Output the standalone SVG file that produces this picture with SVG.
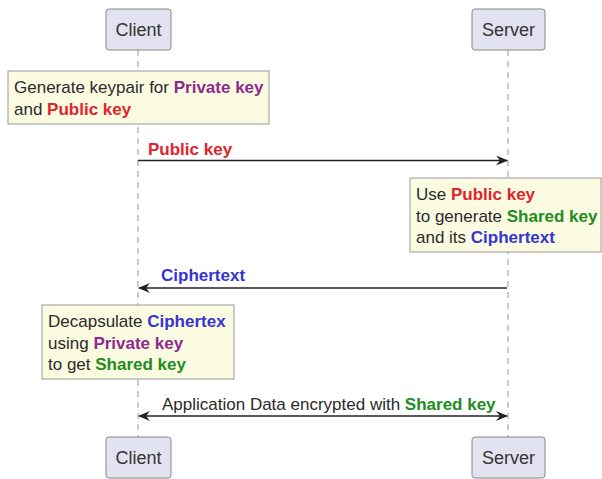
<svg xmlns="http://www.w3.org/2000/svg" width="602" height="479" viewBox="0 0 602 479">
<style>
text{font-family:"Liberation Sans",Arial,sans-serif;font-size:17px;fill:#2a2a2a}
.part rect{fill:#E2E2F0;stroke:#888;stroke-width:1}
.part text{text-anchor:middle;font-size:18px;fill:#333}
.note rect{fill:#FBFBE2;stroke:#999;stroke-width:1}
.b{font-weight:bold}
.pu{fill:#8E2A8E}.rd{fill:#E0242C}.gr{fill:#218C21}.bl{fill:#3535D0}
.life{stroke:#AAA;stroke-width:1.2;stroke-dasharray:6 5}
.msg{stroke:#222;stroke-width:1.3;fill:none}
</style>
<defs>
<marker id="ah" viewBox="0 0 12 10" refX="11" refY="5" markerWidth="12" markerHeight="10" markerUnits="userSpaceOnUse" orient="auto-start-reverse">
<path d="M0,0 L12,5 L0,10 L4,5 Z" fill="#222"/>
</marker>
</defs>
<g id="lifelines">
<line class="life" x1="138" y1="50" x2="138" y2="437"/>
<line class="life" x1="508" y1="50" x2="508" y2="437"/>
</g>
<g id="client-top" class="part"><rect x="106" y="9" width="65" height="41" rx="3"/><text x="138.5" y="36">Client</text></g>
<g id="server-top" class="part"><rect x="472" y="9" width="73" height="41" rx="3"/><text x="508.5" y="36">Server</text></g>
<g id="client-bottom" class="part"><rect x="106" y="437" width="65" height="41" rx="3"/><text x="138.5" y="464">Client</text></g>
<g id="server-bottom" class="part"><rect x="472" y="437" width="73" height="41" rx="3"/><text x="508.5" y="464">Server</text></g>
<g id="note1" class="note"><rect x="8" y="71" width="261" height="53"/>
<text x="14" y="93">Generate keypair for <tspan class="b pu">Private key</tspan></text>
<text x="14" y="115">and <tspan class="b rd">Public key</tspan></text></g>
<g id="note2" class="note"><rect x="410" y="178" width="191" height="74"/>
<text x="416" y="200">Use <tspan class="b rd">Public key</tspan></text>
<text x="416" y="222">to generate <tspan class="b gr">Shared key</tspan></text>
<text x="416" y="243">and its <tspan class="b bl">Ciphertext</tspan></text></g>
<g id="note3" class="note"><rect x="42" y="305" width="192" height="74"/>
<text x="48" y="327">Decapsulate <tspan class="b bl">Ciphertex</tspan></text>
<text x="48" y="349">using <tspan class="b pu">Private key</tspan></text>
<text x="48" y="370">to get <tspan class="b gr">Shared key</tspan></text></g>
<g id="connectors">
<line class="msg" x1="138" y1="160.5" x2="507" y2="160.5" marker-end="url(#ah)"/>
<text class="b rd" x="148" y="155">Public key</text>
<line class="msg" x1="507" y1="288" x2="139" y2="288" marker-end="url(#ah)"/>
<text class="b bl" x="161" y="281">Ciphertext</text>
<line class="msg" x1="139" y1="416" x2="507" y2="416" marker-start="url(#ah)" marker-end="url(#ah)"/>
<text x="162" y="410">Application Data encrypted with <tspan class="b gr">Shared key</tspan></text>
</g>
</svg>
